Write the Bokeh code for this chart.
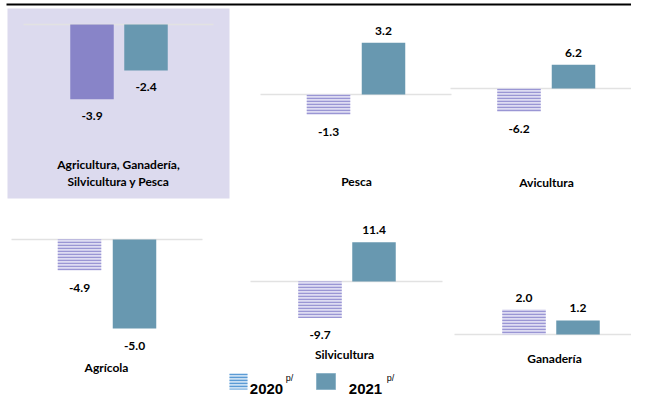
from bokeh.plotting import figure
from bokeh.models import Range1d
from bokeh.core.properties import value
from bokeh.embed import file_html
from bokeh.resources import INLINE

# ---------------- data ----------------
panel_names = ["Agricultura, Ganadería,\nSilvicultura y Pesca", "Pesca", "Avicultura",
               "Agrícola", "Silvicultura", "Ganadería"]
years = [2020, 2021]
values_2020 = [-3.9, -1.3, -6.2, -4.9, -9.7, 2.0]
values_2021 = [-2.4, 3.2, 6.2, -5.0, 11.4, 1.2]
legend_labels = ["2020", "2021"]
legend_sup = "p/"

# ---------------- layout (pixel units of the main ranges) ----------------
X0, X1, Y_TOP, Y_BOT = 0, 631, 0, 398
W, H = 631, 398
bar_centers = [(91.5, 145.5), (328, 383), (518.5, 573), (79, 134), (319.5, 373.5), (523.5, 577.5)]
bar_px = 43.5
baselines = [24, 94, 88, 239, 281, 334]
px_per_unit_2020 = [19.15, 15.6, 3.75, 6.33, 3.75, 12.5]
px_per_unit_2021 = [19.15, 16.2, 3.85, 17.8, 3.45, 11.7]
baseline_span = [(23, 213), (260, 451), (450, 631), (11, 202), (250, 442), (454, 631)]
name_pos = [(118, 164), (356, 181), (546, 182), (106, 367), (344, 354), (554, 358)]

FONT = value("Lato")
PURPLE = "#8884C8"
TEAL = "#6898B0"

p = figure(width=W, height=H, x_range=Range1d(X0, X1), y_range=Range1d(Y_BOT, Y_TOP),
           x_axis_type=None, y_axis_type=None, toolbar_location=None,
           output_backend="svg", min_border=0, outline_line_color=None)
p.xgrid.visible = False
p.ygrid.visible = False
p.background_fill_color = "white"

# shaded total panel and top rule
p.quad(left=7, right=229, top=8, bottom=198, fill_color="#DCDAEE", line_color=None)
p.segment(x0=[6], y0=[4], x1=[631], y1=[4], line_color="black", line_width=1.8)

for i, name in enumerate(panel_names):
    cx0, cx1 = bar_centers[i]
    d = cx1 - cx0
    xname = f"x{i}"
    p.extra_x_ranges[xname] = Range1d(years[0] - (cx0 - X0) / d, years[0] + (X1 - cx0) / d)
    Y0 = baselines[i]
    sx0, sx1 = baseline_span[i]
    p.segment(x0=[sx0], y0=[Y0], x1=[sx1], y1=[Y0], line_color="#E2E2E2", line_width=1.6)

    for year, vals, scales in ((years[0], values_2020, px_per_unit_2020),
                               (years[1], values_2021, px_per_unit_2021)):
        s = scales[i]
        yname = f"y{i}_{year}"
        p.extra_y_ranges[yname] = Range1d((Y0 - Y_BOT) / s, (Y0 - Y_TOP) / s)
        v = vals[i]
        if year == years[1]:
            style = dict(fill_color=TEAL, line_color=None)
        elif i == 0:
            style = dict(fill_color=PURPLE, line_color=None)
        else:
            style = dict(fill_color="#DEDCF2", line_color=None, hatch_pattern="horizontal_line",
                         hatch_color="#9A96D4", hatch_weight=1.5, hatch_scale=3)
        p.vbar(x=[year], top=[v], bottom=0, width=bar_px / d,
               x_range_name=xname, y_range_name=yname, **style)
        p.text(x=[year], y=[v], text=[f"{v:.1f}"], x_range_name=xname, y_range_name=yname,
               y_offset=-12 if v >= 0 else 17, text_align="center", text_baseline="middle",
               text_font=FONT, text_font_style="bold", text_font_size="12px", text_color="#000000")

    nx, ny = name_pos[i]
    for j, line in enumerate(name.split("\n")):
        p.text(x=[nx], y=[ny + j * 17], text=[line], text_align="center", text_baseline="middle",
               text_font=FONT, text_font_style="bold", text_font_size="12px", text_color="#000000")

# legend
p.rect(x=[238], y=[381], width=18, height=16, fill_color="#C9DFF3", line_color=None,
       hatch_pattern="horizontal_line", hatch_color="#5B9BD5", hatch_weight=1.5, hatch_scale=3)
p.rect(x=[325.5], y=[381], width=19, height=16, fill_color=TEAL, line_color="#8DB3C7", line_width=1)
for lx, sx, lab in ((266, 289, legend_labels[0]), (365, 390, legend_labels[1])):
    p.text(x=[lx], y=[388], text=[lab], text_align="center", text_baseline="middle",
           text_font=value("Liberation Sans"), text_font_style="bold", text_font_size="15px",
           text_color="black")
    p.text(x=[sx], y=[377], text=[legend_sup], text_align="center", text_baseline="middle",
           text_font=value("Liberation Sans"), text_font_size="9px", text_color="black")

open("out.html", "w").write(file_html(p, INLINE))
